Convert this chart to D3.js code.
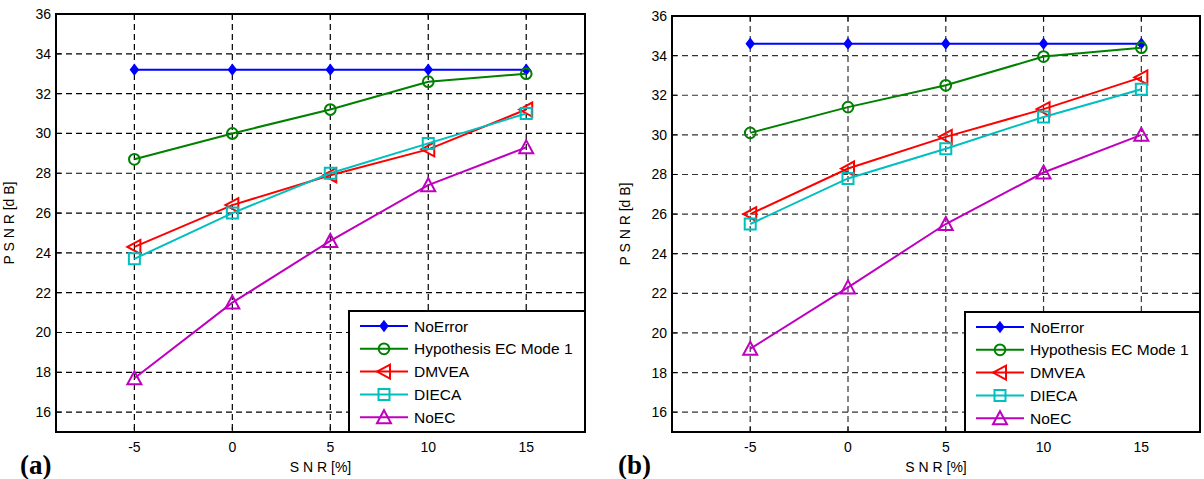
<!DOCTYPE html>
<html>
<head>
<meta charset="utf-8">
<script src="https://cdn.jsdelivr.net/npm/d3@7"></script>
<style>
body{margin:0;background:#fff;}
svg text{font-family:"Liberation Sans",Arial,sans-serif;}
</style>
</head>
<body>
<svg id="chart" width="1204" height="479"></svg>
<script>
// data
const snr = [-5, 0, 5, 10, 15];
const seriesNames = ["NoError", "Hypothesis EC Mode 1", "DMVEA", "DIECA", "NoEC"];
const seriesColors = ["#0000ff", "#008000", "#ff0000", "#00bfbf", "#bf00bf"];
const seriesMarkers = ["diamond", "circle", "triLeft", "square", "triUp"];

const psnrA_noError = [33.2, 33.2, 33.2, 33.2, 33.2];
const psnrA_hypo    = [28.7, 30.0, 31.2, 32.6, 33.0];
const psnrA_dmvea   = [24.3, 26.4, 27.9, 29.2, 31.2];
const psnrA_dieca   = [23.7, 26.0, 28.0, 29.5, 31.0];
const psnrA_noEC    = [17.7, 21.5, 24.6, 27.4, 29.3];

const psnrB_noError = [34.6, 34.6, 34.6, 34.6, 34.6];
const psnrB_hypo    = [30.1, 31.4, 32.5, 33.95, 34.4];
const psnrB_dmvea   = [26.0, 28.3, 29.9, 31.3, 32.9];
const psnrB_dieca   = [25.5, 27.8, 29.3, 30.9, 32.3];
const psnrB_noEC    = [19.2, 22.3, 25.5, 28.1, 30.0];

const yTicks = d3.range(16, 37, 2);
const xTicks = [-5, 0, 5, 10, 15];

const svg = d3.select("#chart");

function markerPath(type){
    if(type==="diamond") return "M0,-4.5L3.5,0L0,4.5L-3.5,0Z";
    if(type==="circle") return d3.symbol().type(d3.symbolCircle).size(90)();
    if(type==="triLeft") return "M-7,0L6,-7L6,7Z";
    if(type==="square") return "M-5.5,-5.5H5.5V5.5H-5.5Z";
    if(type==="triUp") return "M0,-7L7,6H-7Z";
}

function drawPanel(box, series, label, legendBox){
    const x = d3.scaleLinear().domain([-9, 18]).range([box.left, box.right]);
    const y = d3.scaleLinear().domain([15, 36]).range([box.bottom, box.top]);
    const g = svg.append("g");

    // grid
    g.selectAll(".gx").data(xTicks).join("line")
        .attr("x1", d=>x(d)).attr("x2", d=>x(d))
        .attr("y1", box.top).attr("y2", box.bottom)
        .attr("stroke", box.grid).attr("stroke-width", 1.2).attr("stroke-dasharray", "6,4");
    g.selectAll(".gy").data(yTicks).join("line")
        .attr("x1", box.left).attr("x2", box.right)
        .attr("y1", d=>y(d)).attr("y2", d=>y(d))
        .attr("stroke", box.grid).attr("stroke-width", 1.2).attr("stroke-dasharray", "6,4");

    // inward ticks on all sides
    const tl = 5;
    xTicks.forEach(t=>{
        g.append("line").attr("x1", x(t)).attr("x2", x(t)).attr("y1", box.bottom).attr("y2", box.bottom-tl).attr("stroke","#000");
        g.append("line").attr("x1", x(t)).attr("x2", x(t)).attr("y1", box.top).attr("y2", box.top+tl).attr("stroke","#000");
    });
    yTicks.forEach(t=>{
        g.append("line").attr("x1", box.left).attr("x2", box.left+tl).attr("y1", y(t)).attr("y2", y(t)).attr("stroke","#000");
        g.append("line").attr("x1", box.right).attr("x2", box.right-tl).attr("y1", y(t)).attr("y2", y(t)).attr("stroke","#000");
    });

    // frame
    g.append("rect").attr("x", box.left).attr("y", box.top)
        .attr("width", box.right-box.left).attr("height", box.bottom-box.top)
        .attr("fill","none").attr("stroke","#000").attr("stroke-width", 2);

    // tick labels
    g.selectAll(".ty").data(yTicks).join("text")
        .attr("x", box.left-5).attr("y", d=>y(d)+5)
        .attr("text-anchor","end").attr("font-size", 14).text(d=>d);
    g.selectAll(".tx").data(xTicks).join("text")
        .attr("x", d=>x(d)).attr("y", box.bottom+20)
        .attr("text-anchor","middle").attr("font-size", 14).text(d=>d);

    // axis titles
    g.append("text").attr("x", (box.left+box.right)/2).attr("y", box.bottom+40)
        .attr("text-anchor","middle").attr("font-size", 14).text("S N R [%]");
    g.append("text").attr("transform", `translate(${box.left-42},${(box.top+box.bottom)/2}) rotate(-90)`)
        .attr("text-anchor","middle").attr("font-size", 14).text("P S N R [d B]");

    // panel label
    g.append("text").attr("x", box.labelX).attr("y", 474)
        .style("font-family","'Liberation Serif','Times New Roman',serif")
        .style("font-weight","bold").style("font-size","27px").text(label);

    // series
    const line = d3.line().x((d,i)=>x(snr[i])).y(d=>y(d));
    series.forEach((vals, si)=>{
        g.append("path").datum(vals).attr("d", line)
            .attr("fill","none").attr("stroke", seriesColors[si]).attr("stroke-width", 2);
        g.selectAll(".m"+si).data(vals).join("path")
            .attr("transform", (d,i)=>`translate(${x(snr[i])},${y(d)})`)
            .attr("d", markerPath(seriesMarkers[si]))
            .attr("fill", si===0 ? seriesColors[si] : "none")
            .attr("stroke", seriesColors[si]).attr("stroke-width", 2);
    });

    // legend
    const lg = g.append("g");
    lg.append("rect").attr("x", legendBox.x).attr("y", legendBox.y)
        .attr("width", legendBox.w).attr("height", legendBox.h)
        .attr("fill","#fff").attr("stroke","#000").attr("stroke-width", 2);
    seriesNames.forEach((name, si)=>{
        const ly = legendBox.y + 15 + si*22.8;
        const lx = legendBox.x + 11;
        lg.append("line").attr("x1", lx).attr("x2", lx+48).attr("y1", ly).attr("y2", ly)
            .attr("stroke", seriesColors[si]).attr("stroke-width", 2);
        lg.append("path").attr("transform", `translate(${lx+24},${ly})`)
            .attr("d", markerPath(seriesMarkers[si]))
            .attr("fill", si===0 ? seriesColors[si] : "none")
            .attr("stroke", seriesColors[si]).attr("stroke-width", 2);
        lg.append("text").attr("x", lx+54).attr("y", ly+5.5)
            .attr("font-size", 15.5).text(name);
    });
}

drawPanel({left:56, right:585, top:14, bottom:432, grid:"#000", labelX:20},
    [psnrA_noError, psnrA_hypo, psnrA_dmvea, psnrA_dieca, psnrA_noEC], "(a)",
    {x:349, y:311, w:236, h:121});
drawPanel({left:672, right:1200, top:16, bottom:432, grid:"#333", labelX:618},
    [psnrB_noError, psnrB_hypo, psnrB_dmvea, psnrB_dieca, psnrB_noEC], "(b)",
    {x:965, y:312, w:235, h:120});
</script>
</body>
</html>
